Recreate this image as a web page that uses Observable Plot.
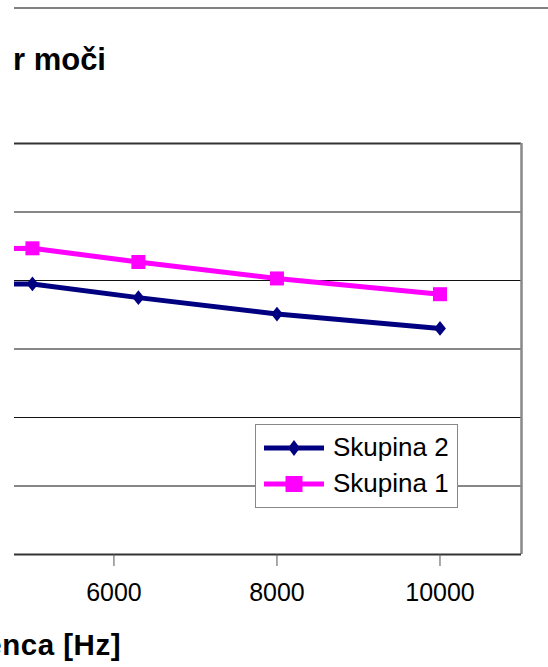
<!DOCTYPE html>
<html>
<head>
<meta charset="utf-8">
<script src="https://cdn.jsdelivr.net/npm/d3@7"></script>
<script src="https://cdn.jsdelivr.net/npm/@observablehq/plot@0.6"></script>
<style>
  html, body { margin: 0; padding: 0; background: #fff; overflow: hidden; }
  #wrap { position: relative; width: 548px; height: 667px; overflow: hidden; font-family: "Liberation Sans", Arial, sans-serif; }
  #topRule { position: absolute; left: 14px; right: 0; top: 7px; height: 2px; background: #808080; }
  #titleClip { position: absolute; left: 13px; right: 0; top: 30px; height: 60px; overflow: hidden; }
  .title { position: absolute; right: 442px; top: 14px; font-size: 31px; line-height: 31px; font-weight: bold; white-space: nowrap; color: #000; }
  .xlabel { position: absolute; right: 427px; top: 630px; font-size: 29.5px; line-height: 29.5px; font-weight: bold; letter-spacing: 0.5px; white-space: nowrap; color: #000; }
  #legend { position: absolute; left: 255px; top: 424px; width: 203px; height: 84px; box-sizing: border-box; border: 1px solid #888; background: #fff; }
  .lrow { position: absolute; left: 0; height: 30px; display: flex; align-items: center; font-size: 26px; color: #000; white-space: nowrap; }
  #chart svg { display: block; }
</style>
</head>
<body>
<div id="wrap">
  <div id="chart"></div>
  <div id="topRule"></div>
  <div id="titleClip"><div class="title">Spekter moči</div></div>
  <div class="xlabel">Frekvenca [Hz]</div>
  <div id="legend"></div>
</div>
<script>
// ---- data ----
const freqs = [4000, 5000, 6300, 8000, 10000];
const skupina1 = [44.6, 44.7, 42.7, 40.3, 38.0];
const skupina2 = [39.4, 39.5, 37.5, 35.1, 33.0];
const seriesNames = ["Skupina 2", "Skupina 1"];
const seriesColors = ["#000080", "#FF00FF"];
const xTicks = [6000, 8000, 10000];
const yGrid = [10, 20, 30, 40, 50];
const yDomain = [0, 60];
const xDomain = [4780, 11000];

const table = [];
freqs.forEach((f, i) => {
  table.push({series: "Skupina 1", freq: f, value: skupina1[i]});
  table.push({series: "Skupina 2", freq: f, value: skupina2[i]});
});

const diamond = {
  draw(context, size) {
    const s = Math.sqrt(size / Math.PI);
    context.moveTo(0, -s * 1.05);
    context.lineTo(s * 0.85, 0);
    context.lineTo(0, s * 1.05);
    context.lineTo(-s * 0.85, 0);
    context.closePath();
  }
};

const chart = Plot.plot({
  width: 548,
  height: 667,
  marginTop: 143,
  marginBottom: 113,
  marginLeft: 14,
  marginRight: 27,
  x: {domain: xDomain, axis: null, label: null},
  y: {domain: yDomain, axis: null, label: null},
  color: {domain: seriesNames, range: seriesColors},
  style: {fontFamily: "'Liberation Sans', Arial, sans-serif", background: "transparent", color: "#000"},
  marks: [
    Plot.ruleY(yGrid, {stroke: "#111", strokeWidth: 1}),
    Plot.ruleY([yDomain[1]], {stroke: "#333", strokeWidth: 2}),
    Plot.ruleX([xDomain[1]], {stroke: "#888", strokeWidth: 2.5}),
    Plot.ruleY([yDomain[0]], {stroke: "#333", strokeWidth: 2}),
    Plot.line(table, {x: "freq", y: "value", z: "series", stroke: "series", strokeWidth: 5, clip: true}),
    Plot.dot(table.filter(d => d.series === "Skupina 2"), {x: "freq", y: "value", fill: "series", symbol: diamond, r: 7, stroke: null, clip: true}),
    Plot.dot(table.filter(d => d.series === "Skupina 1"), {x: "freq", y: "value", fill: "series", symbol: "square", r: 7.9, stroke: null, clip: true}),
    Plot.axisX(xTicks, {tickSize: 12, tickPadding: 17, fontSize: 25, stroke: "#555", fill: "#000", label: null, tickFormat: d => String(d)})
  ]
});
document.getElementById("chart").appendChild(chart);

// ---- legend ----
const legend = document.getElementById("legend");
const rowCenters = [22.7, 58.7];
seriesNames.forEach((name, i) => {
  const row = document.createElement("div");
  row.className = "lrow";
  row.style.top = (rowCenters[i] - 15) + "px";
  const ns = "http://www.w3.org/2000/svg";
  const sw = document.createElementNS(ns, "svg");
  sw.setAttribute("width", 77);
  sw.setAttribute("height", 30);
  const ln = document.createElementNS(ns, "line");
  ln.setAttribute("x1", 8); ln.setAttribute("x2", 68);
  ln.setAttribute("y1", 15); ln.setAttribute("y2", 15);
  ln.setAttribute("stroke", seriesColors[i]);
  ln.setAttribute("stroke-width", 5);
  sw.appendChild(ln);
  const mk = document.createElementNS(ns, "path");
  mk.setAttribute("d", i === 0 ? "M38,7L44,15L38,23L32,15Z" : "M29.5,7H46.5V23H29.5Z");
  mk.setAttribute("fill", seriesColors[i]);
  sw.appendChild(mk);
  row.appendChild(sw);
  const t = document.createElement("span");
  t.textContent = name;
  row.appendChild(t);
  legend.appendChild(row);
});
</script>
</body>
</html>
